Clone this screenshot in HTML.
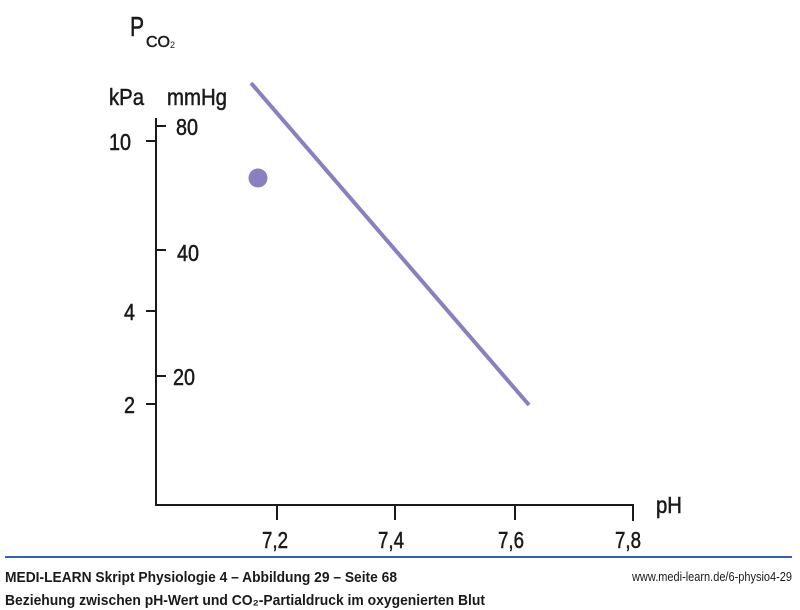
<!DOCTYPE html>
<html><head><meta charset="utf-8"><style>
html,body{margin:0;padding:0;background:#fff;}
svg{display:block;}
text{font-family:"Liberation Sans Narrow","Liberation Sans",sans-serif;fill:#1a1a1a;}
.w{stroke:#1a1a1a;stroke-width:0.5;}
</style></head><body>
<svg width="800" height="610" viewBox="0 0 800 610" xmlns="http://www.w3.org/2000/svg">
<text class="w" x="130" y="36" font-size="28" textLength="14" lengthAdjust="spacingAndGlyphs">P</text>
<text class="w" x="146" y="47" font-size="16" textLength="24" lengthAdjust="spacingAndGlyphs">CO</text>
<text x="170" y="48" font-size="9">2</text>
<text class="w" x="109" y="105" font-size="23" textLength="35" lengthAdjust="spacingAndGlyphs">kPa</text>
<text class="w" x="167" y="105" font-size="23" textLength="60" lengthAdjust="spacingAndGlyphs">mmHg</text>
<g stroke="#1a1a1a" stroke-width="2" fill="none">
<line x1="156" y1="118" x2="156" y2="506"/>
<line x1="155" y1="505" x2="634" y2="505"/>
<line x1="277" y1="505" x2="277" y2="520"/>
<line x1="395" y1="505" x2="395" y2="520"/>
<line x1="515" y1="505" x2="515" y2="520"/>
<line x1="633" y1="505" x2="633" y2="521"/>
<line x1="146" y1="141" x2="156" y2="141"/>
<line x1="146" y1="311" x2="156" y2="311"/>
<line x1="146" y1="404" x2="156" y2="404"/>
<line x1="156" y1="126" x2="166" y2="126"/>
<line x1="156" y1="250" x2="166" y2="250"/>
<line x1="156" y1="376" x2="166" y2="376"/>
</g>
<g font-size="23" class="w">
<text x="109" y="150" textLength="22" lengthAdjust="spacingAndGlyphs">10</text>
<text x="124" y="320" textLength="11" lengthAdjust="spacingAndGlyphs">4</text>
<text x="124" y="413" textLength="11" lengthAdjust="spacingAndGlyphs">2</text>
<text x="176" y="135" textLength="22" lengthAdjust="spacingAndGlyphs">80</text>
<text x="177" y="261" textLength="22" lengthAdjust="spacingAndGlyphs">40</text>
<text x="173" y="385" textLength="22" lengthAdjust="spacingAndGlyphs">20</text>
<text x="262" y="548" textLength="26" lengthAdjust="spacingAndGlyphs">7,2</text>
<text x="378" y="548" textLength="26" lengthAdjust="spacingAndGlyphs">7,4</text>
<text x="498" y="548" textLength="26" lengthAdjust="spacingAndGlyphs">7,6</text>
<text x="615" y="548" textLength="26" lengthAdjust="spacingAndGlyphs">7,8</text>
<text x="656" y="513" textLength="26" lengthAdjust="spacingAndGlyphs">pH</text>
</g>
<line x1="251" y1="83" x2="529" y2="405" stroke="#8a80c0" stroke-width="4"/>
<circle cx="258" cy="178" r="9.5" fill="#8a80c0"/>
<line x1="5" y1="557" x2="792" y2="557" stroke="#2d62b5" stroke-width="2"/>
<text x="5" y="582" font-size="15" font-weight="bold" textLength="392" lengthAdjust="spacingAndGlyphs">MEDI-LEARN Skript Physiologie 4 – Abbildung 29 – Seite 68</text>
<text x="792" y="581" font-size="13" text-anchor="end" textLength="160" lengthAdjust="spacingAndGlyphs">www.medi-learn.de/6-physio4-29</text>
<text x="5" y="605" font-size="15" font-weight="bold" textLength="480" lengthAdjust="spacingAndGlyphs">Beziehung zwischen pH-Wert und CO₂-Partialdruck im oxygenierten Blut</text>
</svg>
</body></html>
